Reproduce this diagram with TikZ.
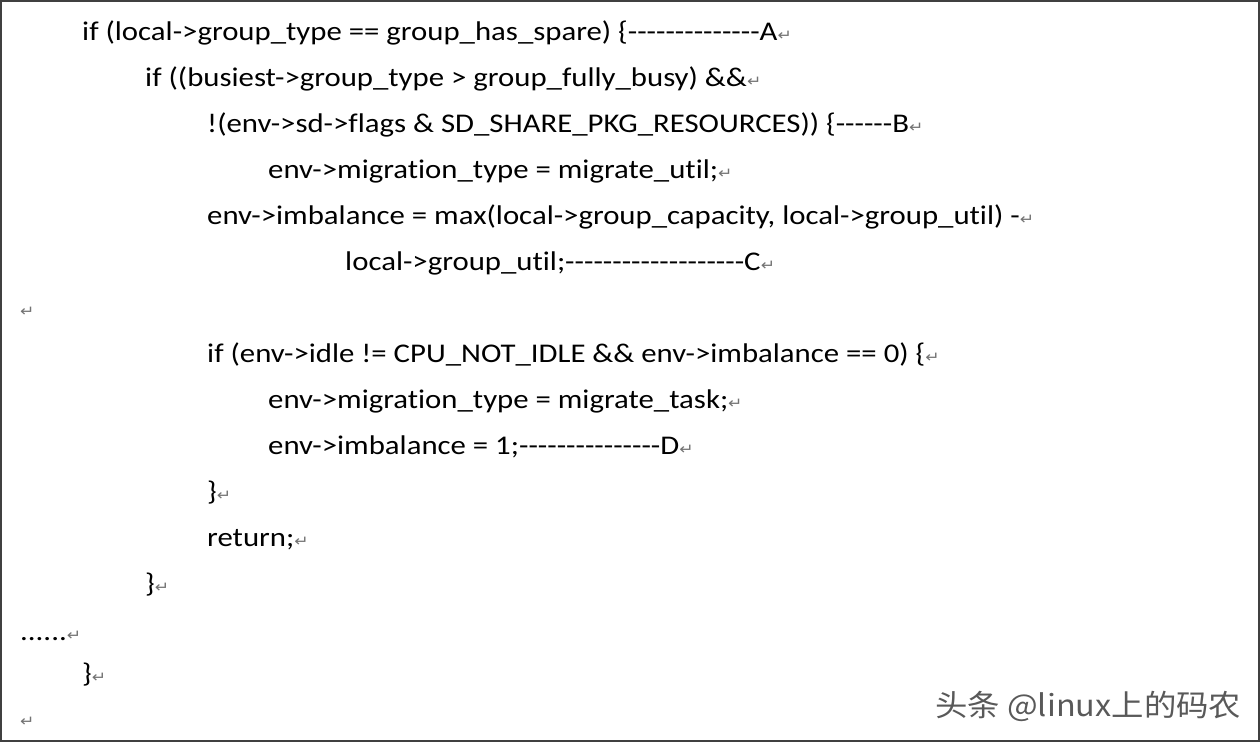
\documentclass[tikz,border=0pt]{standalone}
\usepackage{fontspec}
\setmainfont{Carlito}[Ligatures={TeXOff,NoCommon}]
\newfontfamily\symf{DejaVu Sans}
\newfontfamily\cjk{Noto Sans CJK SC}
\newcommand{\rt}{{\symf\fontsize{15}{15}\selectfont\textcolor{black!55}{↵}}}
\begin{document}
\begin{tikzpicture}[x=1pt,y=1pt,
  code/.style={anchor=base west,inner sep=0pt,xscale=1.14,transform shape,font=\fontsize{27}{27}\selectfont}]
\useasboundingbox (0,0) rectangle (1260,-742);
\draw[line width=1.5pt,black!75] (1,-1) rectangle (1259,-741);
\node[code] (l1) at (82,-40) {if (local->group\_type == group\_has\_spare) \{--------------A\rt};
\node[code] (l2) at (145,-86) {if ((busiest->group\_type > group\_fully\_busy) \&\&\rt};
\node[code] (l3) at (207,-132) {!(env->sd->flags \& SD\_SHARE\_PKG\_RESOURCES)) \{------B\rt};
\node[code] (l4) at (268,-178) {env->migration\_type = migrate\_util;\rt};
\node[code] (l5) at (207,-224) {env->imbalance = max(local->group\_capacity, local->group\_util) -\rt};
\node[code] (l6) at (345,-270) {local->group\_util;-------------------C\rt};
\node[code] (l7) at (20,-316) {\rt};
\node[code] (l8) at (207,-362) {if (env->idle != CPU\_NOT\_IDLE \&\& env->imbalance == 0) \{\rt};
\node[code] (l9) at (268,-408) {env->migration\_type = migrate\_task;\rt};
\node[code] (l10) at (268,-454) {env->imbalance = 1;---------------D\rt};
\node[code] (l11) at (207,-500) {\}\rt};
\node[code] (l12) at (207,-546) {return;\rt};
\node[code] (l13) at (145,-592) {\}\rt};
\node[code] (l14) at (20,-640) {......\rt};
\node[code] (l15) at (82,-682) {\}\rt};
\node[code] (l16) at (20,-726) {\rt};
\node[anchor=base west,inner sep=0pt,xscale=1.08,transform shape,text=black!65,font=\cjk\fontsize{30}{30}\selectfont] (wm) at (935,-716) {头条 @linux上的码农};
\end{tikzpicture}
\end{document}
